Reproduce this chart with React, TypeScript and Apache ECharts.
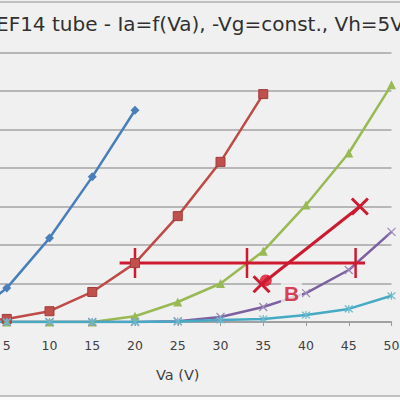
import React, { useEffect, useRef } from "react";
import * as echarts from "echarts";

const va = [0, 5, 10, 15, 20, 25, 30, 35, 40, 45, 50];
const blue = [0, 0.88, 2.18, 3.77, 5.5, null, null, null, null, null, null];
const red = [0, 0.08, 0.28, 0.78, 1.53, 2.75, 4.16, 5.92, null, null, null];
const green = [0, 0, 0, 0, 0.15, 0.52, 1.0, 1.84, 3.04, 4.39, 6.16];
const purple = [0, 0, 0, 0, 0, 0.02, 0.13, 0.39, 0.75, 1.35, 2.34];
const cyan = [0, 0, 0, 0, 0, 0.01, 0.05, 0.08, 0.18, 0.34, 0.68];

const hLine = [[18.2, 1.53], [46.9, 1.53]];
const hTicks = [20, 33.1, 45.8];
const tickHalf = 0.39;
const hDot = [20, 1.53];
const slant = [[34.8, 0.98], [46.3, 3.0]];
const slantDot = [35.3, 1.08];
const bLabel = [38.3, 0.75];

const BG = "#f0f0f0";
const ANN = "#cc1a30";
const X_PATH = "path://M0,0L10,10M10,0L0,10";
const STAR_PATH = "path://M0,0L10,10M10,0L0,10M5,-1L5,11";

function pairs(ys: (number | null)[]) {
  return va.map((x, i) => [x, ys[i]]).filter((p) => p[1] !== null);
}

export default function App() {
  const ref = useRef<HTMLDivElement>(null);
  useEffect(() => {
    const chart = echarts.init(ref.current!, null, { renderer: "svg" });
    const base = { type: "line", silent: true };
    const series: any[] = [
      { ...base, data: pairs(blue), symbol: "diamond", symbolSize: 9,
        lineStyle: { color: "#4a7ebb", width: 2.5 }, itemStyle: { color: "#4a7ebb" } },
      { ...base, data: pairs(red), symbol: "rect", symbolSize: 9,
        lineStyle: { color: "#be4b48", width: 2.5 },
        itemStyle: { color: "#c0504d", borderColor: "#a03c3a", borderWidth: 1 } },
      { ...base, data: pairs(green), symbol: "triangle", symbolSize: 9,
        lineStyle: { color: "#98b954", width: 2.5 }, itemStyle: { color: "#98b954" } },
      { ...base, data: pairs(purple), symbol: X_PATH, symbolSize: 8,
        lineStyle: { color: "#7d60a0", width: 2.5 },
        itemStyle: { color: "none", borderColor: "#9a88b8", borderWidth: 1.2 } },
      { ...base, data: pairs(cyan), symbol: STAR_PATH, symbolSize: 8,
        lineStyle: { color: "#46aac5", width: 2.5 },
        itemStyle: { color: "none", borderColor: "#6ab8cc", borderWidth: 1.2 } },
      { ...base, data: hLine, symbol: "none", lineStyle: { color: ANN, width: 3 } },
      ...hTicks.map((x) => ({
        ...base, data: [[x, hLine[0][1] - tickHalf], [x, hLine[0][1] + tickHalf]],
        symbol: "none", lineStyle: { color: ANN, width: 2.5 },
      })),
      { ...base, data: slant, symbol: X_PATH, symbolSize: [16, 16],
        lineStyle: { color: ANN, width: 3 },
        itemStyle: { color: "none", borderColor: ANN, borderWidth: 3 } },
      { type: "scatter", silent: true, data: [hDot, slantDot], symbol: "circle",
        symbolSize: (v: number[]) => (v[0] === hDot[0] ? 9 : 12), itemStyle: { color: "#e0102a" } },
      { type: "scatter", silent: true, data: [bLabel], symbolSize: 1,
        itemStyle: { color: "rgba(0,0,0,0)" }, z: 10,
        label: { show: true, position: "inside", formatter: "B", color: "#d0102a",
          fontSize: 21, fontWeight: "bold", fontFamily: "Liberation Sans",
          backgroundColor: BG, padding: [2, 3] } },
    ];
    chart.setOption({
      animation: false,
      backgroundColor: BG,
      grid: { left: -36, right: 8.5, top: 52.5, bottom: 78, outerBoundsMode: "none", containLabel: false },
      xAxis: {
        type: "value", min: 0, max: 50, interval: 5,
        name: "Va (V)", nameLocation: "middle", nameGap: 45,
        nameTextStyle: { fontSize: 14.5, color: "#404040", fontFamily: "DejaVu Sans" },
        axisLine: { show: true, lineStyle: { color: "#9a9a9a", width: 1.5 } },
        axisTick: { show: true, length: 4, lineStyle: { color: "#9a9a9a" } },
        axisLabel: { fontSize: 12.5, color: "#404040", margin: 17, fontFamily: "DejaVu Sans", showMinLabel: false },
        splitLine: { show: false },
      },
      yAxis: {
        type: "value", min: 0, max: 7, interval: 1,
        axisLine: { show: false }, axisTick: { show: false }, axisLabel: { show: false },
        splitLine: { lineStyle: { color: "#a5a5a5", width: 1.5 } },
      },
      graphic: [
        { type: "text", left: -4, top: 14, style: { text: "EF14 tube - Ia=f(Va), -Vg=const., Vh=5V",
          fontSize: 20, fill: "#303030", fontFamily: "DejaVu Sans" } },
        { type: "line", shape: { x1: 0, y1: 2, x2: 400, y2: 2 }, style: { stroke: "#c0c0c0", lineWidth: 2 } },
        { type: "rect", shape: { x: 0, y: 396, width: 400, height: 4 }, style: { fill: "#fafafa" } },
        { type: "line", shape: { x1: 0, y1: 396, x2: 400, y2: 396 }, style: { stroke: "#c0c0c0", lineWidth: 2 } },
      ],
      series,
    });
    return () => chart.dispose();
  }, []);
  return <div ref={ref} style={{ position: "fixed", left: 0, top: 0, width: 400, height: 400 }} />;
}
